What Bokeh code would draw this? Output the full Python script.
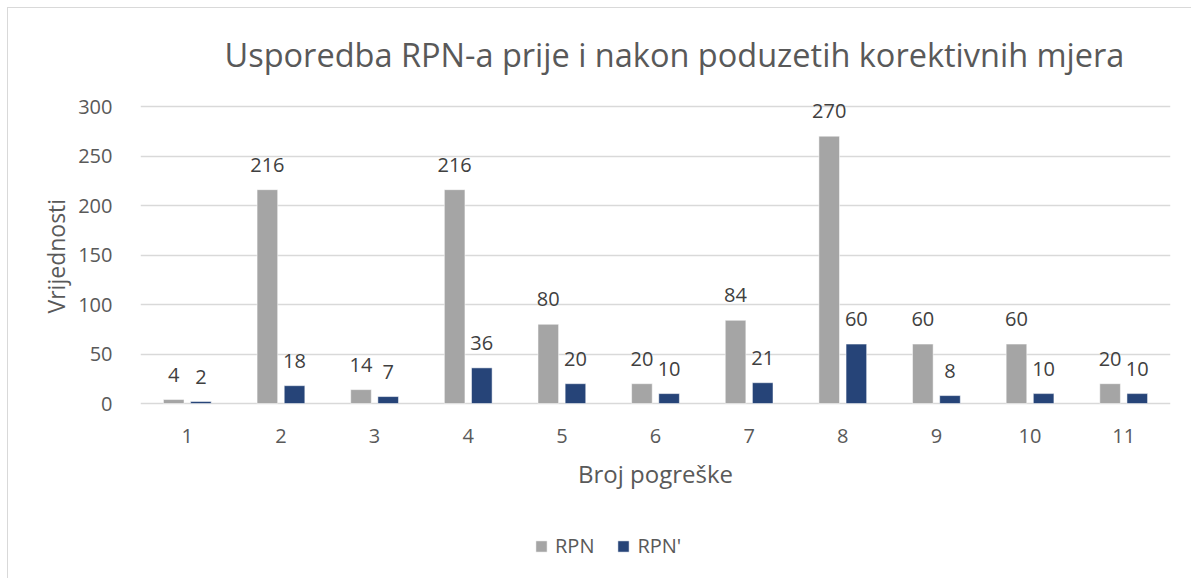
from bokeh.plotting import figure
from bokeh.models import (FactorRange, ColumnDataSource, Legend, LegendItem,
                          LabelSet, Range1d, FixedTicker, Title)
from bokeh.transform import dodge
from bokeh.core.properties import value
from bokeh.embed import file_html
from bokeh.resources import INLINE

categories = [str(i) for i in range(1, 12)]
rpn = [4, 216, 14, 216, 80, 20, 84, 270, 60, 60, 20]
rpn_prime = [2, 18, 7, 36, 20, 10, 21, 60, 8, 10, 10]
y_ticks = [0, 50, 100, 150, 200, 250, 300]

title_text = "Usporedba RPN-a prije i nakon poduzetih korektivnih mjera"
x_title = "Broj pogreške"
y_title = "Vrijednosti"
series_names = ["RPN", "RPN'"]

GRAY = "#A5A5A5"
BLUE = "#264478"
FONT = "Open Sans"

src = ColumnDataSource(dict(cat=categories, rpn=rpn, rpnp=rpn_prime,
                            rpn_lbl=[str(v) for v in rpn],
                            rpnp_lbl=[str(v) for v in rpn_prime]))

# 0 -> 403px, 300 -> 106px on the page; frame runs from 91px to the bottom (579px)
PX_PER_UNIT = 297 / 300
Y_END = 300 + 15 / PX_PER_UNIT
Y_START = -(579 - 403) / PX_PER_UNIT

W, H = 1184, 571
p = figure(x_range=FactorRange(*categories, range_padding=0),
           y_range=Range1d(Y_START, Y_END),
           width=W, height=H, output_backend="svg", toolbar_location=None,
           min_border_left=132, min_border_right=22,
           min_border_top=83, min_border_bottom=0)
p.styles = {"margin-left": "7px", "margin-top": "7px",
            "border-left": "1px solid #D9D9D9", "border-top": "1px solid #D9D9D9"}
p.outline_line_color = None
p.background_fill_color = "white"
p.border_fill_color = "white"

r1 = p.vbar(x=dodge("cat", -0.145, range=p.x_range), top="rpn", bottom=0, width=0.22,
            source=src, fill_color=GRAY, line_color="white", line_width=0.5)
r2 = p.vbar(x=dodge("cat", 0.145, range=p.x_range), top="rpnp", bottom=0, width=0.22,
            source=src, fill_color=BLUE, line_color="white", line_width=0.5)

for fld, top, off in (("rpn_lbl", "rpn", -0.145), ("rpnp_lbl", "rpnp", 0.145)):
    ls = LabelSet(x=dodge("cat", off, range=p.x_range), y=top, text=fld, source=src,
                  text_align="center", text_baseline="alphabetic", y_offset=18,
                  text_font=value(FONT), text_font_size=value("20px"),
                  text_color="#404040")
    p.add_layout(ls)

# axes and grid
p.yaxis.ticker = FixedTicker(ticks=y_ticks)
p.ygrid.ticker = FixedTicker(ticks=y_ticks)
p.xgrid.grid_line_color = None
p.ygrid.grid_line_color = "#D9D9D9"
p.ygrid.grid_line_width = 1.3
p.ygrid.level = "underlay"

for ax in (p.xaxis[0], p.yaxis[0]):
    ax.major_tick_line_color = None
    ax.minor_tick_line_color = None
    ax.axis_line_color = None
    ax.major_label_text_font = FONT
    ax.major_label_text_font_size = "20px"
    ax.major_label_text_color = "#595959"
    ax.axis_label_text_font = FONT
    ax.axis_label_text_font_style = "normal"
    ax.axis_label_text_color = "#595959"

p.yaxis.major_label_standoff = 22

p.xaxis.fixed_location = 0
p.xaxis.major_label_standoff = 19
p.xaxis.axis_label = x_title
p.xaxis.axis_label_text_font_size = "24px"
p.xaxis.axis_label_standoff = 11

# y axis title (left panel, placed along the 0..300 span)
p.add_layout(Title(text=y_title, align="left", offset=266, standoff=8,
                   text_font=FONT, text_font_size="23px", text_font_style="normal",
                   text_color="#595959"), "left")

# chart title
p.title.text = title_text
p.title.align = "left"
p.title.offset = 84
p.title.standoff = 30
p.title.text_font = FONT
p.title.text_font_size = "32.5px"
p.title.text_font_style = "normal"
p.title.text_color = "#595959"

legend = Legend(items=[LegendItem(label=series_names[0], renderers=[r1]),
                       LegendItem(label=series_names[1], renderers=[r2])],
                orientation="horizontal", location=(394, 20),
                glyph_width=14, glyph_height=14, label_height=14,
                label_standoff=7, spacing=22, padding=0, margin=0,
                border_line_color=None, background_fill_alpha=0,
                label_text_font=FONT, label_text_font_size="20px",
                label_text_color="#595959")
p.add_layout(legend, "center")

open("out.html", "w").write(file_html(p, INLINE))
